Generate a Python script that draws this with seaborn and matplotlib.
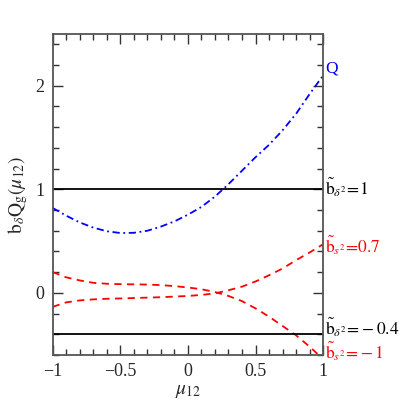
import numpy as np
import pandas as pd
import matplotlib
matplotlib.use("Agg")
import matplotlib.pyplot as plt
import matplotlib.transforms as mtransforms
from matplotlib.ticker import MultipleLocator
import seaborn as sns

# ---- data ----
mu = [-1.0, -0.9, -0.8, -0.7, -0.6, -0.5, -0.4, -0.3, -0.2, -0.1, 0.0,
      0.1, 0.2, 0.3, 0.4, 0.5, 0.6, 0.7, 0.8, 0.9, 1.0]
q_vals = [0.82, 0.745, 0.68, 0.63, 0.595, 0.578, 0.58, 0.60, 0.64, 0.69, 0.755,
          0.83, 0.93, 1.05, 1.18, 1.31, 1.43, 1.57, 1.73, 1.92, 2.10]
bs_m1_vals = [0.20, 0.15, 0.12, 0.097, 0.088, 0.084, 0.082, 0.080, 0.075, 0.065, 0.052,
              0.035, 0.008, -0.03, -0.08, -0.15, -0.23, -0.32, -0.41, -0.52, -0.64]
bs_07_vals = [-0.135, -0.092, -0.073, -0.063, -0.057, -0.054, -0.050, -0.046, -0.042, -0.036, -0.030,
              -0.020, -0.005, 0.025, 0.06, 0.11, 0.17, 0.235, 0.316, 0.39, 0.47]
hlines = [1.0, -0.4]

labels = ["Q", r"$\tilde{\rm b}_{\delta^2}\!=\!1$", r"$\tilde{\rm b}_{s^2}\!=\!0.7$",
          r"$\tilde{\rm b}_{\delta^2}\!=\!-0.4$", r"$\tilde{\rm b}_{s^2}\!=\!-1$"]
label_y = [2.17, 1.02, 0.46, -0.33, -0.56]
label_colors = ["#0000ff", "black", "#ff0000", "black", "#ff0000"]

sns.set_style("ticks")
plt.rcParams["font.family"] = ["Liberation Serif", "DejaVu Serif"]
plt.rcParams["mathtext.fontset"] = "stix"

fig = plt.figure(figsize=(4.07, 4.07), dpi=100)
ax = fig.add_axes([0.1295, 0.1278, 0.6645, 0.7887])

df = pd.DataFrame({"mu": mu, "Q": q_vals, "m1": bs_m1_vals, "p07": bs_07_vals})

sns.lineplot(data=df, x="mu", y="Q", ax=ax, color="#0000ff", lw=1.3, sort=True)
ax.lines[-1].set_dashes([4, 2, 1, 2])
sns.lineplot(data=df, x="mu", y="m1", ax=ax, color="#ff0000", lw=1.3, sort=True)
ax.lines[-1].set_dashes([4, 3])
sns.lineplot(data=df, x="mu", y="p07", ax=ax, color="#ff0000", lw=1.3, sort=True)
ax.lines[-1].set_dashes([4, 3])

for h in hlines:
    ax.axhline(h, color="black", lw=1.3)

ax.set_xlim(-1, 1)
ax.set_ylim(-0.6, 2.5)
ax.xaxis.set_major_locator(MultipleLocator(0.5))
ax.xaxis.set_minor_locator(MultipleLocator(0.1))
ax.yaxis.set_major_locator(MultipleLocator(1))
ax.yaxis.set_minor_locator(MultipleLocator(0.2))
ax.set_xticks([-1, -0.5, 0, 0.5, 1])
ax.set_xticklabels(["\u22121", "\u22120.5", "0", "0.5", "1"])
ax.set_yticks([0, 1, 2])
ax.set_yticklabels(["0", "1", "2"])
ax.tick_params(which="both", direction="in", top=True, right=True,
               labelsize=13, color="#333333", pad=6)
ax.tick_params(which="major", length=7, width=1.0)
ax.tick_params(which="minor", length=4.5, width=1.0)
for s in ax.spines.values():
    s.set_linewidth(1.3)
    s.set_color("#555555")

ax.set_xlabel(r"$\mu_{12}$", fontsize=14, labelpad=2)
ax.set_ylabel(r"${\rm b}_\delta {\rm Q}_{\rm g}(\mu_{12})$", fontsize=14, labelpad=4)

trans = mtransforms.blended_transform_factory(ax.transAxes, ax.transData)
for t, yv, c in zip(labels, label_y, label_colors):
    ax.text(1.008, yv, t, transform=trans, color=c, fontsize=12.5,
            ha="left", va="center", clip_on=False)

fig.savefig("out.png", dpi=100)
